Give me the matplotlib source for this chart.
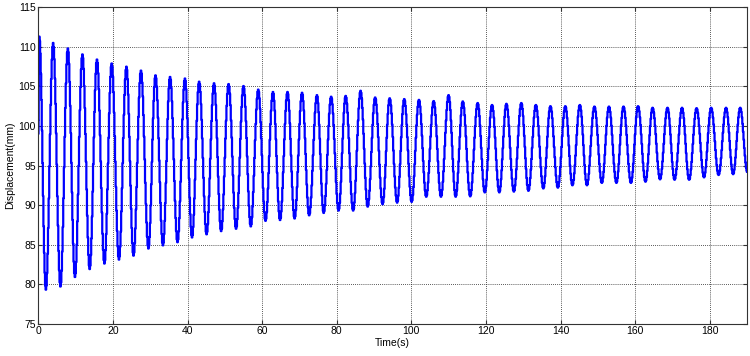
import numpy as np
import matplotlib
matplotlib.use("Agg")
import matplotlib.pyplot as plt

plt.rcParams['font.family'] = ['Liberation Sans', 'DejaVu Sans']

# extremes: (time s, displacement mm), alternating peak / trough
ext_t = [0.0, 0.15, 1.9, 3.85, 5.8, 7.8, 9.7, 11.7, 13.65, 15.6, 17.6, 19.55, 21.5,
         23.5, 25.4, 27.4, 29.4, 31.3, 33.3, 35.2, 37.2, 39.2, 41.1, 43.0, 45.0,
         47.0, 48.9, 50.9, 52.9, 54.9, 56.85, 58.85, 60.8, 62.8, 64.7, 66.7, 68.6,
         70.6, 72.5, 74.6, 76.4, 78.4, 80.4, 82.3, 84.3, 86.3, 88.2, 90.2, 92.2,
         94.1, 96.1, 98.0, 100.0, 101.95, 103.9, 105.9, 107.85, 109.9, 111.8,
         113.7, 115.7, 117.7, 119.6, 121.55, 123.5, 125.4, 127.4, 129.4, 131.3,
         133.3, 135.3, 137.2, 139.2, 141.2, 143.1, 145.1, 147.0, 149.0, 151.0,
         152.9, 154.9, 156.8, 158.8, 160.7, 162.7, 164.6, 166.6, 168.6, 170.5,
         172.5, 174.4, 176.4, 178.4, 180.3, 182.3, 184.3, 186.2, 188.1, 190.0]
ext_v = [99.0, 111.3, 79.3, 110.5, 79.7, 109.8, 80.9, 109.05, 81.9, 108.4, 82.6,
         107.9, 83.1, 107.5, 83.6, 107.0, 84.5, 106.4, 84.9, 106.2, 85.3, 106.0,
         85.9, 105.6, 86.3, 105.4, 86.7, 105.3, 87.0, 105.05, 87.3, 104.6, 88.0,
         104.3, 88.1, 104.3, 88.3, 104.2, 88.7, 103.9, 89.0, 103.7, 89.3, 103.8,
         89.3, 104.45, 89.8, 103.6, 90.1, 103.5, 90.3, 103.4, 90.4, 103.3, 91.05,
         103.15, 91.05, 103.9, 91.05, 103.1, 91.1, 102.9, 91.6, 102.65, 91.6,
         102.8, 91.7, 102.9, 91.8, 102.65, 92.1, 102.5, 92.2, 102.5, 92.5, 102.65,
         92.5, 102.45, 92.8, 102.45, 92.8, 102.45, 92.8, 102.5, 92.95, 102.3,
         93.25, 102.3, 93.2, 102.3, 93.2, 102.25, 93.5, 102.3, 93.8, 102.3, 93.9,
         102.3, 94.2]

# smooth half-cosine between successive extremes, sampled like the logged signal
t_parts, y_parts = [], []
for i in range(len(ext_t) - 1):
    s = np.linspace(0, 1, 12, endpoint=False)
    t_parts.append(ext_t[i] + (ext_t[i + 1] - ext_t[i]) * s)
    y_parts.append(ext_v[i] + (ext_v[i + 1] - ext_v[i]) * (1 - np.cos(np.pi * s)) / 2)
t = np.concatenate(t_parts + [[ext_t[-1]]])
y = np.concatenate(y_parts + [[ext_v[-1]]])

fig = plt.figure(figsize=(7.5, 3.56), dpi=100)
ax = fig.add_axes([0.0513, 0.0907, 0.9447, 0.8888])
ax.step(t, y, where='post', color='#0000ff', lw=1.6)

ax.set_xlim(0, 190)
ax.set_ylim(75, 115)
ax.set_xticks(np.arange(0, 181, 20))
ax.set_yticks(np.arange(75, 116, 5))
ax.grid(True, color='#222222', linestyle=(0, (1, 1.5)), lw=0.6)
ax.tick_params(direction='in', length=3, labelsize=7.5, top=True, right=True,
               color='#333333', pad=2)
for sp in ax.spines.values():
    sp.set_color('#333333')
    sp.set_linewidth(0.8)
ax.set_xlabel('Time(s)', fontsize=7.5, labelpad=1)
ax.set_ylabel('Displacement(mm)', fontsize=7.5, labelpad=2)

fig.savefig('out.png', dpi=100)
